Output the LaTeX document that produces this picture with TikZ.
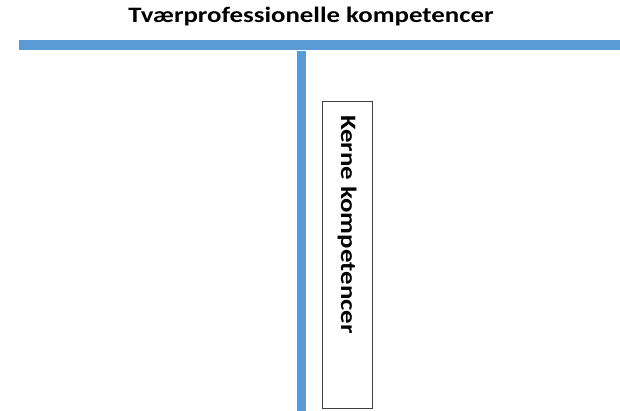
\documentclass[tikz,border=0pt]{standalone}
\usepackage{fontspec}
\setmainfont{Carlito}
\definecolor{barblue}{HTML}{5B9BD5}
\begin{document}
\begin{tikzpicture}[x=1pt,y=1pt,
  bar/.style={draw=barblue,line cap=butt},
  lbl/.style={font=\fontsize{22}{26}\selectfont\bfseries,inner sep=0pt}]
\useasboundingbox (0,0) rectangle (620,-410);
\node[lbl,anchor=base] (title) at (311,-22.3) {\scalebox{1.22}[1]{Tværprofessionelle kompetencer}};
\coordinate (hl) at (19,-45);
\coordinate (hr) at (620,-45);
\coordinate (vt) at (301.5,-50.5);
\coordinate (vb) at (301.5,-412);
\draw[bar,line width=10pt] (hl) -- (hr);
\draw[bar,line width=9pt] (vt) -- (vb);
\node[draw=black!75,line width=0.9pt,minimum width=50pt,minimum height=307pt,inner sep=0pt,anchor=north west] (box) at (322,-101) {};
\node[lbl,rotate=-90,anchor=west] (kerne) at (347,-115) {\scalebox{1.22}[1]{Kerne kompetencer}};
\end{tikzpicture}
\end{document}
